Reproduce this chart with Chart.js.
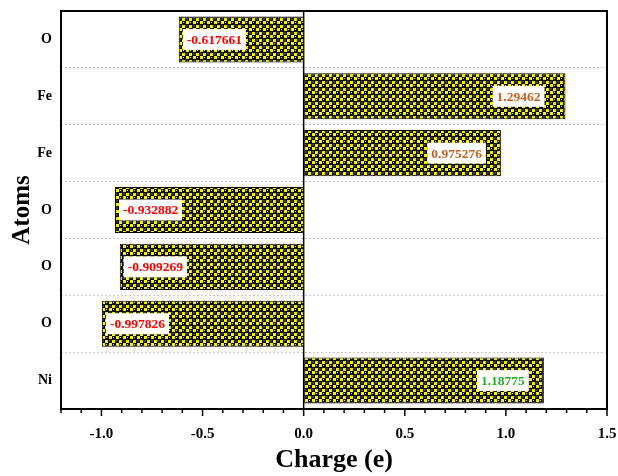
<!DOCTYPE html>
<html><head><meta charset="utf-8">
<script src="https://cdn.jsdelivr.net/npm/chart.js@4"></script>
<style>html,body{margin:0;padding:0;background:#fff}#c{display:block}</style>
</head><body>
<canvas id="c" width="618" height="476"></canvas>
<script>
const atoms = ['O','Fe','Fe','O','O','O','Ni'];
const charges = [-0.617661, 1.29462, 0.975276, -0.932882, -0.909269, -0.997826, 1.18775];
const labelTexts = ['-0.617661','1.29462','0.975276','-0.932882','-0.909269','-0.997826','1.18775'];
const labelColors = ['#ff0000','#c4621e','#c4621e','#ff0000','#ff0000','#ff0000','#22b026'];
const xTicks = [-1.0,-0.5,0.0,0.5,1.0,1.5];

function makePattern(){
  const t=document.createElement('canvas'); t.width=7; t.height=7;
  const g=t.getContext('2d');
  g.fillStyle='#ffff00'; g.fillRect(0,0,7,7);
  g.fillStyle='#000';
  [[1.75,1.75],[5.25,5.25]].forEach(([x,y])=>{g.beginPath();g.arc(x,y,2.45,0,Math.PI*2);g.fill();});
  g.fillStyle='#111';
  g.fillRect(3,0,1,7); g.fillRect(0,3,7,1);
  g.fillStyle='#ffff00';
  g.fillRect(4.5,0.8,1.6,1.6); g.fillRect(0.8,4.5,1.6,1.6);
  g.fillRect(1,1,1,1); g.fillRect(4.5,4.5,1,1);
  return g.createPattern(t,'repeat');
}
const serif = "'Liberation Serif','Times New Roman',serif";
function noPad(s){ s.paddingTop=0; s.paddingBottom=0; s.paddingLeft=0; s.paddingRight=0; }

const decor = {
  id:'decor',
  afterDatasetsDraw(chart){
    const {ctx, chartArea:a, scales:{x,y}} = chart;
    ctx.save();
    const x0 = x.getPixelForValue(0);
    ctx.strokeStyle='#000'; ctx.lineWidth=1.5;
    ctx.beginPath(); ctx.moveTo(x0,a.top); ctx.lineTo(x0,a.bottom); ctx.stroke();
    const meta = chart.getDatasetMeta(0);
    ctx.font = "bold 13.5px "+serif;
    ctx.textBaseline='middle';
    meta.data.forEach((bar,i)=>{
      const w = ctx.measureText(labelTexts[i]).width;
      const bw = w+8, bh = 21;
      let bx;
      if (charges[i] < 0) bx = bar.x + 4;
      else bx = bar.x - (i===1?21:15) - bw;
      const by = bar.y - bh/2;
      ctx.fillStyle='#fff'; ctx.fillRect(bx,by,bw,bh);
      ctx.fillStyle=labelColors[i]; ctx.textAlign='left';
      ctx.fillText(labelTexts[i], bx+4, bar.y+1);
    });
    ctx.strokeStyle='#000'; ctx.lineWidth=2;
    ctx.strokeRect(a.left,a.top,a.right-a.left,a.bottom-a.top);
    ctx.lineWidth=1.5;
    for(let k=-12;k<=15;k++){
      const v=k/10, px=x.getPixelForValue(v);
      const len = (k%5===0)?7:4;
      ctx.beginPath(); ctx.moveTo(px,a.bottom); ctx.lineTo(px,a.bottom+len); ctx.stroke();
    }
    ctx.restore();
  }
};

new Chart(document.getElementById('c'), {
  type:'bar',
  data:{ labels: atoms, datasets:[{ data: charges, backgroundColor: makePattern(), borderColor:'#000', borderWidth:1, categoryPercentage:1.0, barPercentage:0.81 }]},
  options:{
    indexAxis:'y', responsive:false, animation:false,
    layout:{autoPadding:false, padding:{top:11,right:11,left:0,bottom:0}},
    plugins:{legend:{display:false}, tooltip:{enabled:false}},
    scales:{
      x:{ min:-1.2, max:1.5,
        afterBuildTicks(s){ s.ticks = xTicks.map(v=>({value:v})); },
        afterFit(s){ s.height = 67; noPad(s); },
        grid:{ drawOnChartArea:false, drawTicks:true, tickLength:7, color:'rgba(0,0,0,0)' },
        border:{display:false},
        ticks:{ color:'#000', font:{family:serif, weight:'bold', size:15}, padding:9, maxRotation:0,
          callback:(v)=>Number(v).toFixed(1) },
        title:{ display:true, text:'Charge (e)', color:'#000', font:{family:serif, weight:'bold', size:26}, padding:{top:1,bottom:0} }
      },
      y:{
        afterFit(s){ s.width = 61; noPad(s); },
        grid:{ offset:true, drawTicks:false, color:'#c8c8c8', lineWidth:1 },
        border:{display:false, dash:[2,2]},
        ticks:{ color:'#000', font:{family:serif, weight:'bold', size:14}, padding:9 },
        title:{ display:true, text:'Atoms', color:'#000', font:{family:serif, weight:'bold', size:25}, padding:{top:8,bottom:0} }
      }
    }
  },
  plugins:[decor]
});
</script>
</body></html>
